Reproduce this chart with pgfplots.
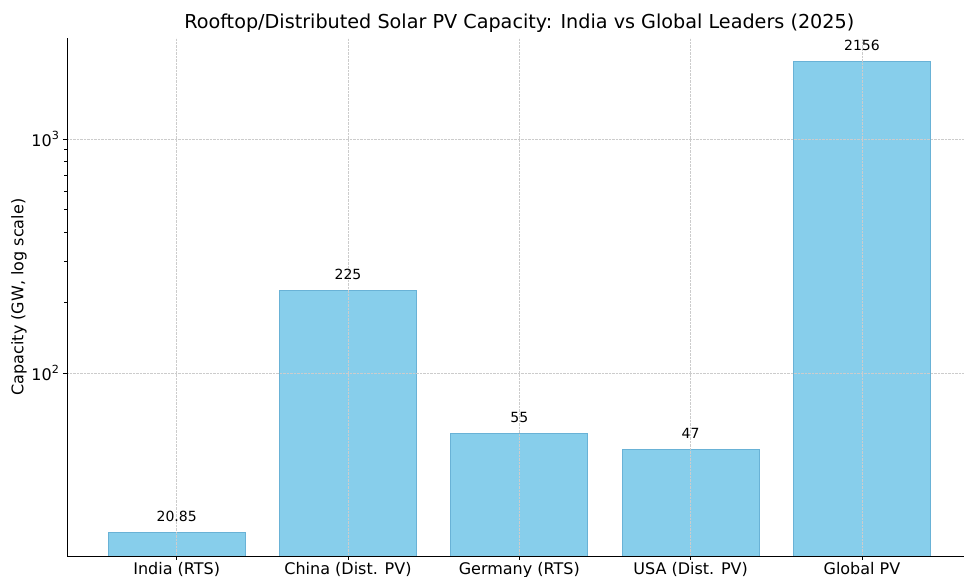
\documentclass[border=0pt]{standalone}
\usepackage{pgfplots}
\pgfplotsset{compat=1.18}
\usepackage{fontspec}
\setmainfont{DejaVu Sans}
\definecolor{barfill}{RGB}{135,206,235}
\definecolor{baredge}{RGB}{105,178,214}
\begin{document}
\begin{tikzpicture}
\begin{axis}[
  at={(67pt,20pt)}, anchor=south west,
  scale only axis, width=904.6pt, height=518pt,
  ymode=log, ymin=16.5, ymax=2705, log origin=infty,
  xmin=-0.64, xmax=4.64,
  axis x line*=bottom, axis y line*=left,
  axis line style={-, line width=0.9pt},
  xtick={0,1,2,3,4},
  xticklabels={India (RTS),China (Dist. PV),Germany (RTS),USA (Dist. PV),Global PV},
  ytick={100,1000},
  yticklabels={10\textsuperscript{2},10\textsuperscript{3}},
  tick align=outside,
  major tick length=4pt, minor tick length=2.5pt,
  tick style={black, line width=0.8pt},
  ticklabel style={font=\fontsize{16}{17}\selectfont},
  xticklabel style={yshift=1pt},
  grid=major,
  major grid style={densely dotted, gray!40, line width=0.6pt},
  axis on top,
  ylabel={Capacity (GW, log scale)},
  ylabel style={font=\fontsize{16}{17}\selectfont, yshift=-2pt},
  title={Rooftop/Distributed Solar PV Capacity: India vs Global Leaders (2025)},
  title style={font=\fontsize{19.2}{21}\selectfont, yshift=-4pt},
  nodes near coords,
  point meta=explicit symbolic,
  nodes near coords style={font=\fontsize{14}{15}\selectfont, anchor=south, yshift=7pt},
  clip=false,
]
\addplot[ybar, bar width=0.8, fill=barfill, draw=baredge, line width=0.8pt] coordinates {
  (0,20.85) [20.85]
  (1,225) [225]
  (2,55) [55]
  (3,47) [47]
  (4,2156) [2156]
};
\end{axis}
\pgfresetboundingbox
\path[use as bounding box] (0,0) rectangle (964pt,576pt);
\end{tikzpicture}
\end{document}
